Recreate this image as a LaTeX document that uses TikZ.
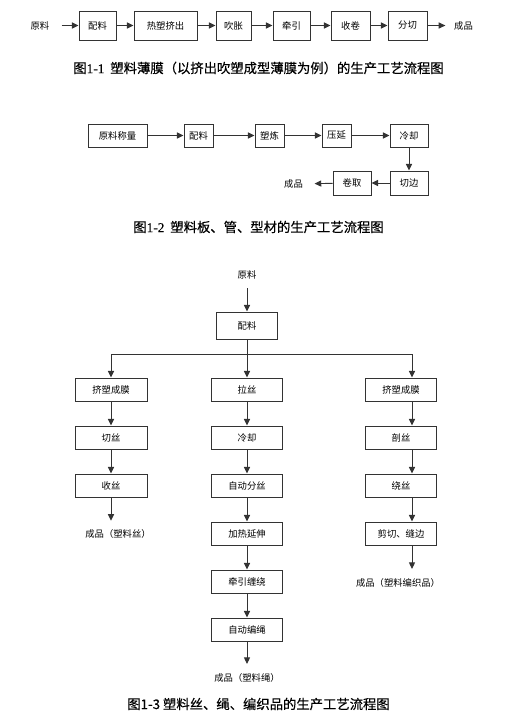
\documentclass[tikz,border=0pt]{standalone}
\usepackage{fontspec}
\setmainfont{Noto Sans CJK SC}
\newfontfamily\capfont[FakeBold=0.3]{Noto Sans CJK SC}
\newfontfamily\capdig[FakeBold=0.3]{Liberation Serif}
\usetikzlibrary{arrows.meta}
\begin{document}
\begin{tikzpicture}[x=0.75pt,y=-0.75pt,
  box/.style={draw=black!80, line width=0.7pt, inner sep=0pt, font=\fontsize{7}{8}\selectfont},
  bs/.style 2 args={minimum width=#1*0.75pt, minimum height=#2*0.75pt},
  lab/.style={inner sep=0pt, font=\fontsize{7}{8}\selectfont},
  captxt/.style={inner sep=0pt, font=\capfont\fontsize{10}{12}\selectfont},
  arr/.style={draw=black!80, line width=0.7pt, -{Triangle[length=5pt,width=4.6pt]}}]
\useasboundingbox (0,0) rectangle (521,722);
% ---------- Figure 1-1 ----------
\node[lab] (a0) at (40,25.5) {原料};
\node[box,bs={37}{29}] (a1) at (97.5,25.5) {配料};
\node[box,bs={63}{29}] (a2) at (165.5,25.5) {热塑挤出};
\node[box,bs={35}{29}] (a3) at (233.5,25.5) {吹胀};
\node[box,bs={37}{29}] (a4) at (291.5,25.5) {牵引};
\node[box,bs={39}{29}] (a5) at (350.5,25.5) {收卷};
\node[box,bs={39}{29}] (a6) at (407.5,25.5) {分切};
\node[lab] (a7) at (463.5,25.5) {成品};
\draw[arr,shorten <=9pt] (a0) -- (a1);
\draw[arr] (a1) -- (a2);
\draw[arr] (a2) -- (a3);
\draw[arr] (a3) -- (a4);
\draw[arr] (a4) -- (a5);
\draw[arr] (a5) -- (a6);
\draw[arr,shorten >=6.4pt] (a6) -- (a7);
\node[captxt] (capa) at (258.5,68) {图{\capdig 1-1}\ \ 塑料薄膜（以挤出吹塑成型薄膜为例）的生产工艺流程图};
% ---------- Figure 1-2 ----------
\node[box,bs={59}{23}] (c1) at (117.5,135.5) {原料称量};
\node[box,bs={29}{23}] (c2) at (198.5,135.5) {配料};
\node[box,bs={29}{23}] (c3) at (269.5,135.5) {塑炼};
\node[box,bs={29}{23}] (c4) at (336.5,135.5) {压延};
\node[box,bs={38}{23}] (c5) at (409,135.5) {冷却};
\node[box,bs={38}{24}] (c6) at (409,183) {切边};
\node[box,bs={38}{24}] (c7) at (352,183) {卷取};
\node[lab] (c8) at (293.5,184) {成品};
\draw[arr] (c1) -- (c2);
\draw[arr] (c2) -- (c3);
\draw[arr] (c3) -- (c4);
\draw[arr] (c4) -- (c5);
\draw[arr] (c5) -- (c6);
\draw[arr] (c6) -- (c7);
\draw[arr,shorten >=8.6pt] (c7) -- (c8);
\node[captxt] (capb) at (258.5,227) {图{\capdig 1-2}\ \ 塑料板、管、型材的生产工艺流程图};
% ---------- Figure 1-3 ----------
\node[lab] (e0) at (247,275) {原料};
\node[box,bs={61}{27}] (e1) at (247,325.5) {配料};
% left column
\node[box,bs={72}{23}] (l1) at (111,389.5) {挤塑成膜};
\node[box,bs={72}{23}] (l2) at (111,437.5) {切丝};
\node[box,bs={72}{23}] (l3) at (111,485.5) {收丝};
\node[lab] (l4) at (118,534) {成品（塑料丝）};
% middle column
\node[box,bs={71}{23}] (m1) at (247,389.5) {拉丝};
\node[box,bs={71}{23}] (m2) at (247,437.5) {冷却};
\node[box,bs={71}{23}] (m3) at (247,485.5) {自动分丝};
\node[box,bs={71}{23}] (m4) at (247,533.5) {加热延伸};
\node[box,bs={71}{23}] (m5) at (247,581.5) {牵引缠绕};
\node[box,bs={71}{23}] (m6) at (247,629.5) {自动编绳};
\node[lab] (m7) at (247,678) {成品（塑料绳）};
% right column
\node[box,bs={71}{23}] (r1) at (401,389.5) {挤塑成膜};
\node[box,bs={71}{23}] (r2) at (401,437.5) {剖丝};
\node[box,bs={71}{23}] (r3) at (401,485.5) {绕丝};
\node[box,bs={71}{23}] (r4) at (401,533.5) {剪切、缝边};
\node[lab] (r5) at (398,583) {成品（塑料编织品）};
\coordinate (jl) at (111,354);
\coordinate (jr) at (412,354);
\draw[arr,shorten <=6.4pt] (e0) -- (e1);
\draw[arr] (e1) -- (m1);
\draw[arr] (e1.south |- jl) -- (jl) -- (l1);
\draw[arr] (e1.south |- jr) -- (jr) -- (jr |- r1.north);
\draw[arr] (l1) -- (l2);
\draw[arr] (l2) -- (l3);
\draw[arr,shorten >=6.4pt] (l3.south) -- (l3.south |- l4.north);
\draw[arr] (m1) -- (m2);
\draw[arr] (m2) -- (m3);
\draw[arr] (m3) -- (m4);
\draw[arr] (m4) -- (m5);
\draw[arr] (m5) -- (m6);
\draw[arr,shorten >=7pt] (m6) -- (m7);
\draw[arr] (jr |- r1.south) -- (jr |- r2.north);
\draw[arr] (jr |- r2.south) -- (jr |- r3.north);
\draw[arr] (jr |- r3.south) -- (jr |- r4.north);
\draw[arr,shorten >=7pt] (jr |- r4.south) -- (jr |- r5.north);
\node[captxt] (capc) at (258.5,704) {图1-3\ 塑料丝、绳、编织品的生产工艺流程图};
\end{tikzpicture}
\end{document}
